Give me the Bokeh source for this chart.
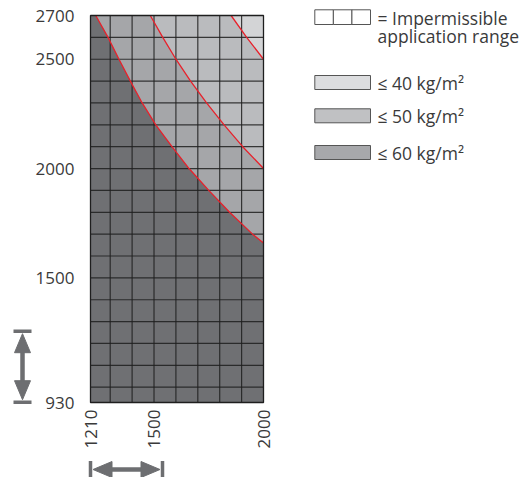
import math
from bokeh.plotting import figure
from bokeh.models import Range1d, FixedTicker
from bokeh.core.properties import value
from bokeh.embed import file_html
from bokeh.resources import INLINE

# ---- data ----
x_ticks = [1210, 1500, 2000]
y_ticks = [930, 1500, 2000, 2500, 2700]
grid_x = [1300, 1400, 1500, 1600, 1700, 1800, 1900]
grid_y = [1000, 1100, 1200, 1300, 1400, 1500, 1600, 1700, 1800, 1900,
          2000, 2100, 2200, 2300, 2400, 2500, 2600]

# boundary curves (x = span, y = spacing)
curve60_x = [1234, 1290, 1340, 1392, 1446, 1508, 1582, 1660, 1750, 1845, 1950, 2000]
curve60_y = [2700, 2600, 2500, 2400, 2300, 2200, 2100, 2000, 1900, 1800, 1700, 1660]
curve50_x = [1483, 1540, 1600, 1667, 1740, 1820, 1905, 2000]
curve50_y = [2700, 2600, 2500, 2400, 2300, 2200, 2100, 2000]
curve40_x = [1852, 1923, 2000]
curve40_y = [2700, 2600, 2500]

legend_line1 = "= Impermissible"
legend_line2 = "application range"
legend_labels = ["≤ 40 kg/m²", "≤ 50 kg/m²", "≤ 60 kg/m²"]

# ---- styles / layout ----
FONT = "Open Sans"
TXT = "#3a3a3a"
C_TOP = "#d3d4d6"
C_40 = "#babbbe"
C_50 = "#a5a6a9"
C_60 = "#6f7073"
LEG_COLORS = ["#dcdddf", "#c0c1c3", "#a7a8ab"]
RED = "#e8212b"
GRAY = "#6d6e71"
GRID = "#1e1e1e"

W, H = 527, 477                 # whole canvas
CL, CT, CW, CH = 90, 15, 173, 387   # chart box on the canvas (px)

xmin, xmax = x_ticks[0], x_ticks[-1]
ymin, ymax = y_ticks[0], y_ticks[-1]
ux = (xmax - xmin) / CW
uy = (ymax - ymin) / CH

def sx(px):      # canvas px -> data x
    return xmin + (px - CL) * ux
def sy(py):      # canvas px -> data y
    return ymax - (py - CT) * uy

p = figure(width=W, height=H, min_border=0,
           x_range=Range1d(sx(0), sx(W)), y_range=Range1d(sy(H), sy(0)),
           output_backend="svg", toolbar_location=None,
           background_fill_color="white", border_fill_color="white")
p.outline_line_color = None
p.xgrid.visible = False
p.ygrid.visible = False

# ---- chart regions ----
p.quad(left=[xmin], right=[xmax], bottom=[ymin], top=[ymax], fill_color=C_TOP, line_color=None)

def region(cx, cy):
    xs = [xmin] + list(cx) + [xmax, xmin]
    ys = [ymax] + list(cy) + [ymin, ymin]
    return xs, ys

for cx, cy, col in [(curve40_x, curve40_y, C_40),
                    (curve50_x, curve50_y, C_50),
                    (curve60_x, curve60_y, C_60)]:
    xs, ys = region(cx, cy)
    p.patch(xs, ys, fill_color=col, line_color=None)

# grid cells
p.segment(x0=grid_x, y0=[ymin] * len(grid_x), x1=grid_x, y1=[ymax] * len(grid_x),
          line_color=GRID, line_width=1.2, line_alpha=0.85)
p.segment(x0=[xmin] * len(grid_y), y0=grid_y, x1=[xmax] * len(grid_y), y1=grid_y,
          line_color=GRID, line_width=1.2, line_alpha=0.85)

for cx, cy in [(curve60_x, curve60_y), (curve50_x, curve50_y), (curve40_x, curve40_y)]:
    p.line(cx, cy, line_color=RED, line_width=1.3)

p.quad(left=[xmin], right=[xmax], bottom=[ymin], top=[ymax],
       fill_color=None, line_color=GRID, line_width=1.3)

# ---- axes, fixed to the chart box ----
p.xaxis.fixed_location = ymin
p.yaxis.fixed_location = xmin
for ax in (p.xaxis[0], p.yaxis[0]):
    ax.axis_line_color = None
    ax.major_tick_line_color = None
    ax.minor_tick_line_color = None
    ax.major_label_text_font = FONT
    ax.major_label_text_font_size = "17px"
    ax.major_label_text_color = TXT
p.xaxis.ticker = FixedTicker(ticks=x_ticks)
p.yaxis.ticker = FixedTicker(ticks=y_ticks)
p.xaxis.major_label_orientation = math.pi / 2
p.xaxis.major_label_standoff = 1
p.yaxis.major_label_standoff = 10

# ---- legend ----
sw_l, sw_r = 314.3, 370
cell = (sw_r - sw_l) / 3
p.quad(left=[sx(sw_l + i * cell) for i in range(3)],
       right=[sx(sw_l + (i + 1) * cell) for i in range(3)],
       top=[sy(9.3)] * 3, bottom=[sy(24)] * 3,
       fill_color="white", line_color="#555555", line_width=1)

tx = 377
p.text(x=[sx(tx), sx(tx)], y=[sy(17), sy(35)], text=[legend_line1, legend_line2],
       text_font=value(FONT), text_font_size="17.5px", text_color=TXT,
       text_baseline="middle", text_align="left")

box_tops = [75, 108.3, 145]
p.quad(left=[sx(sw_l)] * 3, right=[sx(sw_r)] * 3,
       top=[sy(t) for t in box_tops], bottom=[sy(t + 14) for t in box_tops],
       fill_color=LEG_COLORS, line_color="#555555", line_width=1)
p.text(x=[sx(tx)] * 3, y=[sy(t + 7) for t in box_tops], text=legend_labels,
       text_font=value(FONT), text_font_size="17.5px", text_color=TXT,
       text_baseline="middle", text_align="left")

# ---- direction arrows (decoration) ----
# vertical
vx, vt, vb = 22, 330.7, 401.7
hw, hl, gap = 8, 19, 2.5
p.segment(x0=[sx(vx - 9), sx(vx - 9)], y0=[sy(vt), sy(vb)],
          x1=[sx(vx + 9), sx(vx + 9)], y1=[sy(vt), sy(vb)],
          line_color=GRAY, line_width=3.5)
p.segment(x0=[sx(vx)], y0=[sy(vt + gap + hl - 1)], x1=[sx(vx)], y1=[sy(vb - gap - hl + 1)],
          line_color=GRAY, line_width=4.5)
p.patches(xs=[[sx(vx), sx(vx - hw), sx(vx + hw)], [sx(vx), sx(vx - hw), sx(vx + hw)]],
          ys=[[sy(vt + gap), sy(vt + gap + hl), sy(vt + gap + hl)],
              [sy(vb - gap), sy(vb - gap - hl), sy(vb - gap - hl)]],
          fill_color=GRAY, line_color=GRAY)
# horizontal
hy, hlft, hrgt = 469, 90, 162
p.segment(x0=[sx(hlft), sx(hrgt)], y0=[sy(hy - 8.5), sy(hy - 8.5)],
          x1=[sx(hlft), sx(hrgt)], y1=[sy(hy + 8.5), sy(hy + 8.5)],
          line_color=GRAY, line_width=3.5)
p.segment(x0=[sx(hlft + gap + hl - 1)], y0=[sy(hy)], x1=[sx(hrgt - gap - hl + 1)], y1=[sy(hy)],
          line_color=GRAY, line_width=4.5)
p.patches(xs=[[sx(hlft + gap), sx(hlft + gap + hl), sx(hlft + gap + hl)],
              [sx(hrgt - gap), sx(hrgt - gap - hl), sx(hrgt - gap - hl)]],
          ys=[[sy(hy), sy(hy - hw), sy(hy + hw)], [sy(hy), sy(hy - hw), sy(hy + hw)]],
          fill_color=GRAY, line_color=GRAY)

open("out.html", "w").write(file_html(p, INLINE))
